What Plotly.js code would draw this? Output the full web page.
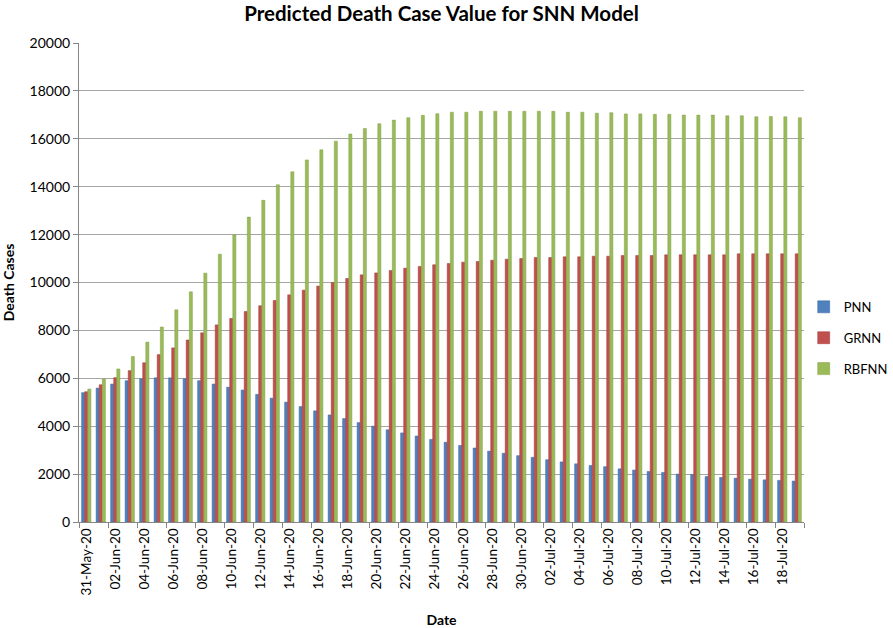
<!DOCTYPE html>
<html>
<head>
<meta charset="utf-8">
<script src="https://cdn.plot.ly/plotly-3.0.1.min.js"></script>
<style>html,body{margin:0;padding:0;background:#fff;}#chart{width:893px;height:628px;}</style>
</head>
<body>
<div id="chart"></div>
<script>
var dates = ["31-May-20","01-Jun-20","02-Jun-20","03-Jun-20","04-Jun-20","05-Jun-20","06-Jun-20","07-Jun-20","08-Jun-20","09-Jun-20",
"10-Jun-20","11-Jun-20","12-Jun-20","13-Jun-20","14-Jun-20","15-Jun-20","16-Jun-20","17-Jun-20","18-Jun-20","19-Jun-20",
"20-Jun-20","21-Jun-20","22-Jun-20","23-Jun-20","24-Jun-20","25-Jun-20","26-Jun-20","27-Jun-20","28-Jun-20","29-Jun-20",
"30-Jun-20","01-Jul-20","02-Jul-20","03-Jul-20","04-Jul-20","05-Jul-20","06-Jul-20","07-Jul-20","08-Jul-20","09-Jul-20",
"10-Jul-20","11-Jul-20","12-Jul-20","13-Jul-20","14-Jul-20","15-Jul-20","16-Jul-20","17-Jul-20","18-Jul-20","19-Jul-20"];

var pnn = [5400,5590,5760,5900,5980,6020,6020,5980,5900,5760,
5630,5510,5330,5170,5005,4820,4640,4470,4320,4150,
4000,3850,3720,3590,3450,3330,3200,3090,2960,2870,
2770,2700,2600,2510,2430,2360,2310,2220,2170,2110,
2070,2000,1990,1900,1860,1830,1790,1760,1740,1710];

var grnn = [5440,5730,6025,6320,6650,6990,7270,7600,7900,8230,
8500,8790,9030,9250,9485,9680,9850,10000,10170,10320,
10400,10500,10600,10670,10740,10793,10849,10877,10933,10974,
11002,11044,11044,11072,11072,11100,11100,11128,11128,11128,
11155,11155,11155,11155,11155,11197,11197,11197,11197,11197];

var rbfnn = [5550,5970,6390,6910,7510,8140,8860,9610,10390,11180,
11980,12730,13430,14080,14620,15120,15540,15900,16200,16430,
16630,16780,16880,16980,17050,17110,17110,17150,17150,17150,
17150,17150,17150,17110,17110,17070,17090,17040,17040,17020,
17020,16990,16990,16990,16960,16960,16920,16930,16920,16880];

var seriesNames = ["PNN","GRNN","RBFNN"];
var fills = ["#4F81BD","#C0504D","#9BBB59"];
var edges = ["#3A6AA5","#A33B38","#7F9E43"];
var values = [pnn, grnn, rbfnn];

var font = "Lato, 'Liberation Sans', Arial, sans-serif";

var traces = values.map(function(v, i){
  return {
    type: "bar",
    name: seriesNames[i],
    legendgroup: seriesNames[i],
    x: dates,
    y: v,
    marker: {color: fills[i], line: {color: edges[i], width: 0.5}}
  };
});

var layout = {
  width: 893, height: 628,
  paper_bgcolor: "#fff", plot_bgcolor: "#fff",
  margin: {l: 78.5, r: 87.3, t: 43.3, b: 106.3, pad: 0},
  font: {family: font, size: 14, color: "#000"},
  title: {text: "<b>Predicted Death Case Value for SNN Model</b>", x: 0.5, xanchor: "center",
          xref: "paper", y: 0.99, yanchor: "top",
          font: {family: font, size: 20.5, color: "#000"}},
  barmode: "group",
  bargap: 0.36,
  bargroupgap: 0,
  showlegend: true,
  legend: {xref: "container", yref: "container", x: 0.9, xanchor: "left", y: 0.462, yanchor: "middle",
           tracegroupgap: 11, itemwidth: 30,
           font: {family: font, size: 13, color: "#000"}, bgcolor: "rgba(0,0,0,0)"},
  xaxis: {
    type: "category",
    tickmode: "linear", tick0: 0, dtick: 2,
    tickson: "boundaries",
    ticks: "outside", ticklen: 5, tickcolor: "#868686",
    tickangle: -90,
    tickfont: {family: font, size: 13.5, color: "#000"},
    showgrid: false, zeroline: false,
    showline: true, linecolor: "#868686", linewidth: 1,
    title: {text: "<b>Date</b>", font: {family: font, size: 14, color: "#000"}, standoff: 24},
    automargin: false
  },
  yaxis: {
    range: [0, 20000], dtick: 2000, tick0: 0, tickformat: "d",
    ticks: "outside", ticklen: 5, tickcolor: "#868686",
    tickfont: {family: font, size: 14, color: "#000"},
    showgrid: true, gridcolor: "#A6A6A6", gridwidth: 1,
    zeroline: false,
    showline: true, linecolor: "#868686", linewidth: 1,
    title: {text: "<b>Death Cases</b>", font: {family: font, size: 14, color: "#000"}, standoff: 12},
    automargin: false
  }
};

Plotly.newPlot("chart", traces, layout, {displayModeBar: false, staticPlot: true});
</script>
</body>
</html>
